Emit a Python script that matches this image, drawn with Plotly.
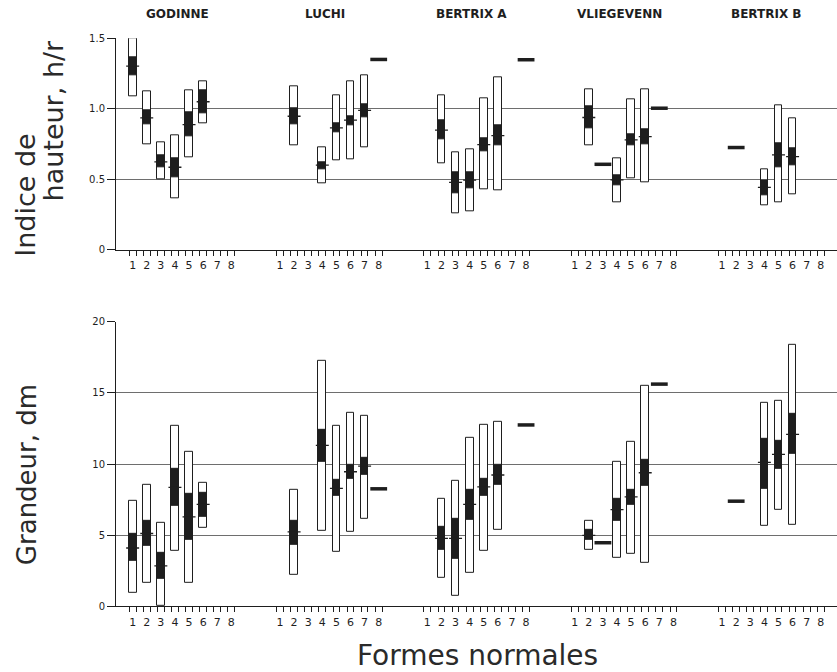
import plotly.graph_objects as go

# ---------------- data ----------------
SITES = ["GODINNE", "LUCHI", "BERTRIX A", "VLIEGEVENN", "BERTRIX B"]
FORMS = [1, 2, 3, 4, 5, 6, 7, 8]
FORM_LABELS = ["1", "2", "3", "4", "5", "6", "7", "8"]

# boxes: site index and form number (shared by both panels)
BOX_SITE = [0, 0, 0, 0, 0, 0, 1, 1, 1, 1, 1, 2, 2, 2, 2, 2, 3, 3, 3, 3, 4, 4, 4]
BOX_FORM = [1, 2, 3, 4, 5, 6, 2, 4, 5, 6, 7, 2, 3, 4, 5, 6, 2, 4, 5, 6, 4, 5, 6]

# Indice de hauteur, h/r
H_MIN = [1.09, 0.751, 0.50, 0.362, 0.656, 0.90, 0.741, 0.474, 0.635, 0.64, 0.727,
         0.616, 0.261, 0.272, 0.426, 0.419, 0.744, 0.336, 0.507, 0.478, 0.312, 0.336, 0.393]
H_MAX = [1.50, 1.125, 0.763, 0.81, 1.132, 1.196, 1.156, 0.73, 1.095, 1.196, 1.239,
         1.097, 0.692, 0.711, 1.073, 1.225, 1.135, 0.649, 1.064, 1.135, 0.574, 1.023, 0.933]
H_LO = [1.237, 0.893, 0.585, 0.514, 0.805, 0.971, 0.888, 0.569, 0.834, 0.881, 0.936,
        0.782, 0.398, 0.438, 0.699, 0.741, 0.862, 0.455, 0.739, 0.748, 0.388, 0.585, 0.602]
H_HI = [1.362, 0.988, 0.668, 0.652, 0.976, 1.13, 1.0, 0.62, 0.90, 0.947, 1.03,
        0.919, 0.55, 0.55, 0.789, 0.884, 1.016, 0.531, 0.819, 0.851, 0.495, 0.755, 0.72]
H_MEAN = [1.303, 0.936, 0.623, 0.585, 0.888, 1.05, 0.947, 0.60, 0.865, 0.919, 0.988,
          0.848, 0.478, 0.493, 0.746, 0.81, 0.938, 0.495, 0.78, 0.803, 0.442, 0.673, 0.661]

# Grandeur, dm
G_MIN = [0.94, 1.67, 0.0, 3.87, 1.64, 5.54, 2.23, 5.33, 3.8, 5.21, 6.15,
         2.0, 0.77, 2.35, 3.87, 5.4, 4.0, 3.41, 3.69, 3.04, 5.69, 6.8, 5.74]
G_MAX = [7.39, 8.57, 5.87, 12.69, 10.86, 8.68, 8.22, 17.23, 12.7, 13.62, 13.38,
         7.56, 8.8, 11.88, 12.75, 12.98, 6.0, 10.16, 11.53, 15.53, 14.33, 14.45, 18.35]
G_LO = [3.17, 4.25, 1.95, 7.04, 4.65, 6.29, 4.34, 10.14, 7.75, 8.99, 9.23,
        3.94, 3.36, 6.1, 7.79, 8.52, 4.64, 6.0, 7.11, 8.45, 8.28, 9.65, 10.71]
G_HI = [5.12, 5.99, 3.76, 9.64, 7.89, 7.98, 6.03, 12.44, 8.87, 9.98, 10.45,
        5.56, 6.15, 8.17, 8.97, 9.93, 5.41, 7.53, 8.21, 10.28, 11.81, 11.62, 13.5]
G_MEAN = [4.1, 5.12, 2.84, 8.36, 6.29, 7.16, 5.23, 11.31, 8.29, 9.46, 9.86,
          4.77, 4.77, 7.16, 8.4, 9.23, 4.99, 6.8, 7.69, 9.39, 10.12, 10.68, 12.09]

# single observations (shown as a short dash)
SINGLE_SITE = [1, 2, 3, 3, 4]
SINGLE_FORM = [8, 8, 3, 7, 2]
H_SINGLE = [1.35, 1.348, 0.606, 1.004, 0.725]
G_SINGLE = [8.26, 12.75, 4.47, 15.62, 7.39]

H_TICKS = [0, 0.5, 1.0, 1.5]
H_TICKTEXT = ["0", "0.5", "1.0", "1.5"]
G_TICKS = [0, 5, 10, 15, 20]
G_TICKTEXT = ["0", "5", "10", "15", "20"]

# ---------------- layout constants ----------------
SITE_STEP = 10.45
BOX_W = 0.55
MEAN_HALF = 0.46
LEG = 0.24
INK = "#1e1e1e"
GRID = "#6e6e6e"
FONT = "DejaVu Sans"


def xpos(sites, forms):
    return [s * SITE_STEP + f for s, f in zip(sites, forms)]


fig = go.Figure()


def add_panel(xa, ya, mn, mx, lo, hi, mean, single):
    xs = xpos(BOX_SITE, BOX_FORM)
    fig.add_trace(go.Bar(
        x=xs, y=[b - a for a, b in zip(mn, mx)], base=mn, width=BOX_W,
        marker=dict(color="white", line=dict(color=INK, width=1)),
        xaxis=xa, yaxis=ya, cliponaxis=False, hoverinfo="skip"))
    fig.add_trace(go.Bar(
        x=xs, y=[b - a for a, b in zip(lo, hi)], base=lo, width=BOX_W,
        marker=dict(color=INK, line=dict(color=INK, width=1)),
        xaxis=xa, yaxis=ya, cliponaxis=False, hoverinfo="skip"))
    mx_, my_ = [], []
    for x, m in zip(xs, mean):
        mx_ += [x - MEAN_HALF, x + MEAN_HALF, None]
        my_ += [m, m, None]
    fig.add_trace(go.Scatter(
        x=mx_, y=my_, mode="lines", line=dict(color=INK, width=1.3),
        xaxis=xa, yaxis=ya, hoverinfo="skip"))
    fig.add_trace(go.Scatter(
        x=xpos(SINGLE_SITE, SINGLE_FORM), y=single, mode="markers",
        marker=dict(symbol="line-ew", size=12, color=INK,
                    line=dict(color=INK, width=3.5)),
        xaxis=xa, yaxis=ya, cliponaxis=False, hoverinfo="skip"))


add_panel("x", "y", H_MIN, H_MAX, H_LO, H_HI, H_MEAN, H_SINGLE)
add_panel("x2", "y2", G_MIN, G_MAX, G_LO, G_HI, G_MEAN, G_SINGLE)

all_sites = [s for s in range(len(SITES)) for _ in FORMS]
all_forms = [f for _ in SITES for f in FORMS]
tick_x = xpos(all_sites, all_forms)
tick_text = [FORM_LABELS[f - 1] for f in all_forms]
legs = []
for x in tick_x:
    legs += [x - LEG, x + LEG]

XR = [-0.18, 50.95]


def xaxis_cfg(anchor):
    return dict(
        domain=[0, 1], range=XR, anchor=anchor,
        tickmode="array", tickvals=tick_x, ticktext=tick_text,
        ticks="outside", ticklen=5, tickcolor="rgba(0,0,0,0)",
        tickfont=dict(size=11, color=INK, family=FONT),
        minor=dict(tickmode="array", tickvals=legs, ticks="outside",
                   ticklen=5, tickwidth=1, tickcolor=INK, showgrid=False),
        showline=True, linecolor=INK, linewidth=1,
        showgrid=False, zeroline=False, fixedrange=True)


def yaxis_cfg(anchor, domain, rng, tv, tt):
    return dict(
        domain=domain, range=rng, anchor=anchor,
        tickmode="array", tickvals=tv, ticktext=tt,
        ticks="outside", ticklen=8, tickwidth=1, tickcolor=INK,
        tickfont=dict(size=10, color=INK, family=FONT),
        showline=True, linecolor=INK, linewidth=1,
        showgrid=True, gridcolor=GRID, gridwidth=1,
        zeroline=False, fixedrange=True)


TITLE_COLOR = "#2a2a2a"
annotations = []
for i, name in enumerate(SITES):
    annotations.append(dict(
        text="<b>" + name + "</b>", xref="x", yref="paper",
        x=i * SITE_STEP + 4.16, y=0.9859, showarrow=False,
        font=dict(size=12, color=INK, family=FONT),
        xanchor="center", yanchor="middle"))

annotations += [
    dict(text="Indice de", xref="paper", yref="paper", x=-0.126, y=0.7131,
         textangle=-90, showarrow=False, font=dict(size=27, color=TITLE_COLOR, family=FONT),
         xanchor="center", yanchor="middle"),
    dict(text="hauteur, h/r", xref="paper", yref="paper", x=-0.0874, y=0.8253,
         textangle=-90, showarrow=False, font=dict(size=27, color=TITLE_COLOR, family=FONT),
         xanchor="center", yanchor="middle"),
    dict(text="Grandeur, dm", xref="paper", yref="paper", x=-0.1234, y=0.2888,
         textangle=-90, showarrow=False, font=dict(size=26, color=TITLE_COLOR, family=FONT),
         xanchor="center", yanchor="middle"),
    dict(text="Formes normales", xref="paper", yref="paper", x=0.502, y=0.0164,
         showarrow=False, font=dict(size=28, color=TITLE_COLOR, family=FONT),
         xanchor="center", yanchor="middle"),
]

fig.update_layout(
    width=837, height=672,
    margin=dict(l=116, r=0, t=0, b=0),
    paper_bgcolor="white", plot_bgcolor="white",
    barmode="overlay", bargap=0, showlegend=False,
    font=dict(family=FONT, color=INK),
    xaxis=xaxis_cfg("y"),
    xaxis2=xaxis_cfg("y2"),
    yaxis=yaxis_cfg("x", [0.6298, 0.9496], [0, 1.5], H_TICKS, H_TICKTEXT),
    yaxis2=yaxis_cfg("x2", [0.0903, 0.5207], [0, 20], G_TICKS, G_TICKTEXT),
    annotations=annotations,
)

POST = (
    "document.body.style.margin='0';"
    "document.body.style.overflow='hidden';"
)

fig.write_html(
    "out.html",
    config={"displayModeBar": False},
    post_script=POST,
)
